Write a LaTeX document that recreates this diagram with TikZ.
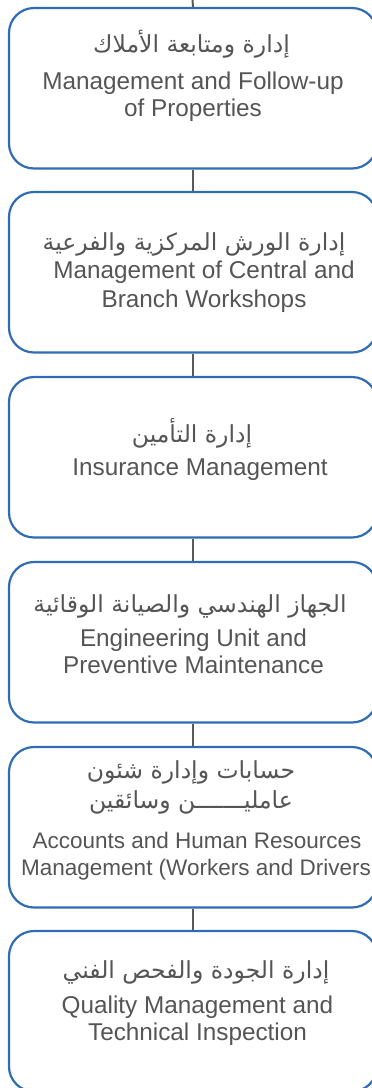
\documentclass[tikz,border=0pt]{standalone}
\usepackage{fontspec}
\setmainfont{Liberation Sans}
\newfontfamily\arabicfont[Script=Arabic]{DejaVu Sans}
\TeXXeTstate=1
\definecolor{boxblue}{HTML}{2F6CB3}
\definecolor{linegray}{HTML}{595959}
\definecolor{txtgray}{HTML}{555555}
\tikzset{
  unitbox/.style={draw=boxblue, line width=2.2pt, rounded corners=25pt, minimum width=368pt, minimum height=160.5pt, inner sep=0pt, fill=white},
  link/.style={draw=linegray, line width=2pt},
  entxt/.style={text=txtgray, inner sep=0pt, font=\fontsize{24.3}{27}\selectfont},
  ensmall/.style={text=txtgray, inner sep=0pt, font=\fontsize{22.5}{27}\selectfont},
  artxt/.style={text=txtgray, inner sep=0pt, font=\arabicfont\fontsize{23.5}{27}\selectfont},
}
\begin{document}
\begin{tikzpicture}[x=1pt,y=-1pt]
\useasboundingbox (0,0) rectangle (372,1088);
\clip (0,0) rectangle (372,1088);
\coordinate (top) at (192.5,0);
\node[unitbox] (b1) at (193,88.25) {};
\node[unitbox] (b2) at (193,272.25) {};
\node[unitbox] (b3) at (193,457.25) {};
\node[unitbox] (b4) at (193,642.25) {};
\node[unitbox] (b5) at (193,827.25) {};
\node[unitbox] (b6) at (193,1011.25) {};
\draw[link] (top) -- (b1.north);
\draw[link] (b1.south) -- (b2.north);
\draw[link] (b2.south) -- (b3.north);
\draw[link] (b3.south) -- (b4.north);
\draw[link] (b4.south) -- (b5.north);
\draw[link] (b5.south) -- (b6.north);
% box 1
\node[artxt, anchor=base] (a1) at (191.5,52) {\beginR إدارة ومتابعة الأملاك\endR};
\node[entxt, anchor=base] (e1a) at (193,89) {Management and Follow-up};
\node[entxt, anchor=base] (e1b) at (193,116) {of Properties};
% box 2
\node[artxt, anchor=base] (a2) at (194,250) {\beginR إدارة الورش المركزية والفرعية\endR};
\node[entxt, anchor=base] (e2a) at (204,278) {Management of Central and};
\node[entxt, anchor=base] (e2b) at (204,307) {Branch Workshops};
% box 3
\node[artxt, anchor=base] (a3) at (192,442) {\beginR إدارة التأمين\endR};
\node[entxt, anchor=base] (e3a) at (200,475) {Insurance Management};
% box 4
\node[artxt, anchor=base] (a4) at (190,612) {\beginR الجهاز الهندسي والصيانة الوقائية\endR};
\node[entxt, anchor=base] (e4a) at (193.5,646) {Engineering Unit and};
\node[entxt, anchor=base] (e4b) at (193.5,673) {Preventive Maintenance};
% box 5
\node[artxt, anchor=base] (a5a) at (191,778) {\beginR حسابات وإدارة شئون\endR};
\node[artxt, anchor=base] (a5b) at (191,808) {\beginR عامليـــــــن وسائقين\endR};
\node[ensmall, anchor=base] (e5a) at (197,848) {Accounts and Human Resources};
\node[ensmall, anchor=base west] (e5b) at (21,875) {Management (Workers and Drivers};
% box 6
\node[artxt, anchor=base] (a6) at (196,978) {\beginR إدارة الجودة والفحص الفني\endR};
\node[entxt, anchor=base] (e6a) at (197.5,1013) {Quality Management and};
\node[entxt, anchor=base] (e6b) at (197.5,1040) {Technical Inspection};
\end{tikzpicture}
\end{document}
